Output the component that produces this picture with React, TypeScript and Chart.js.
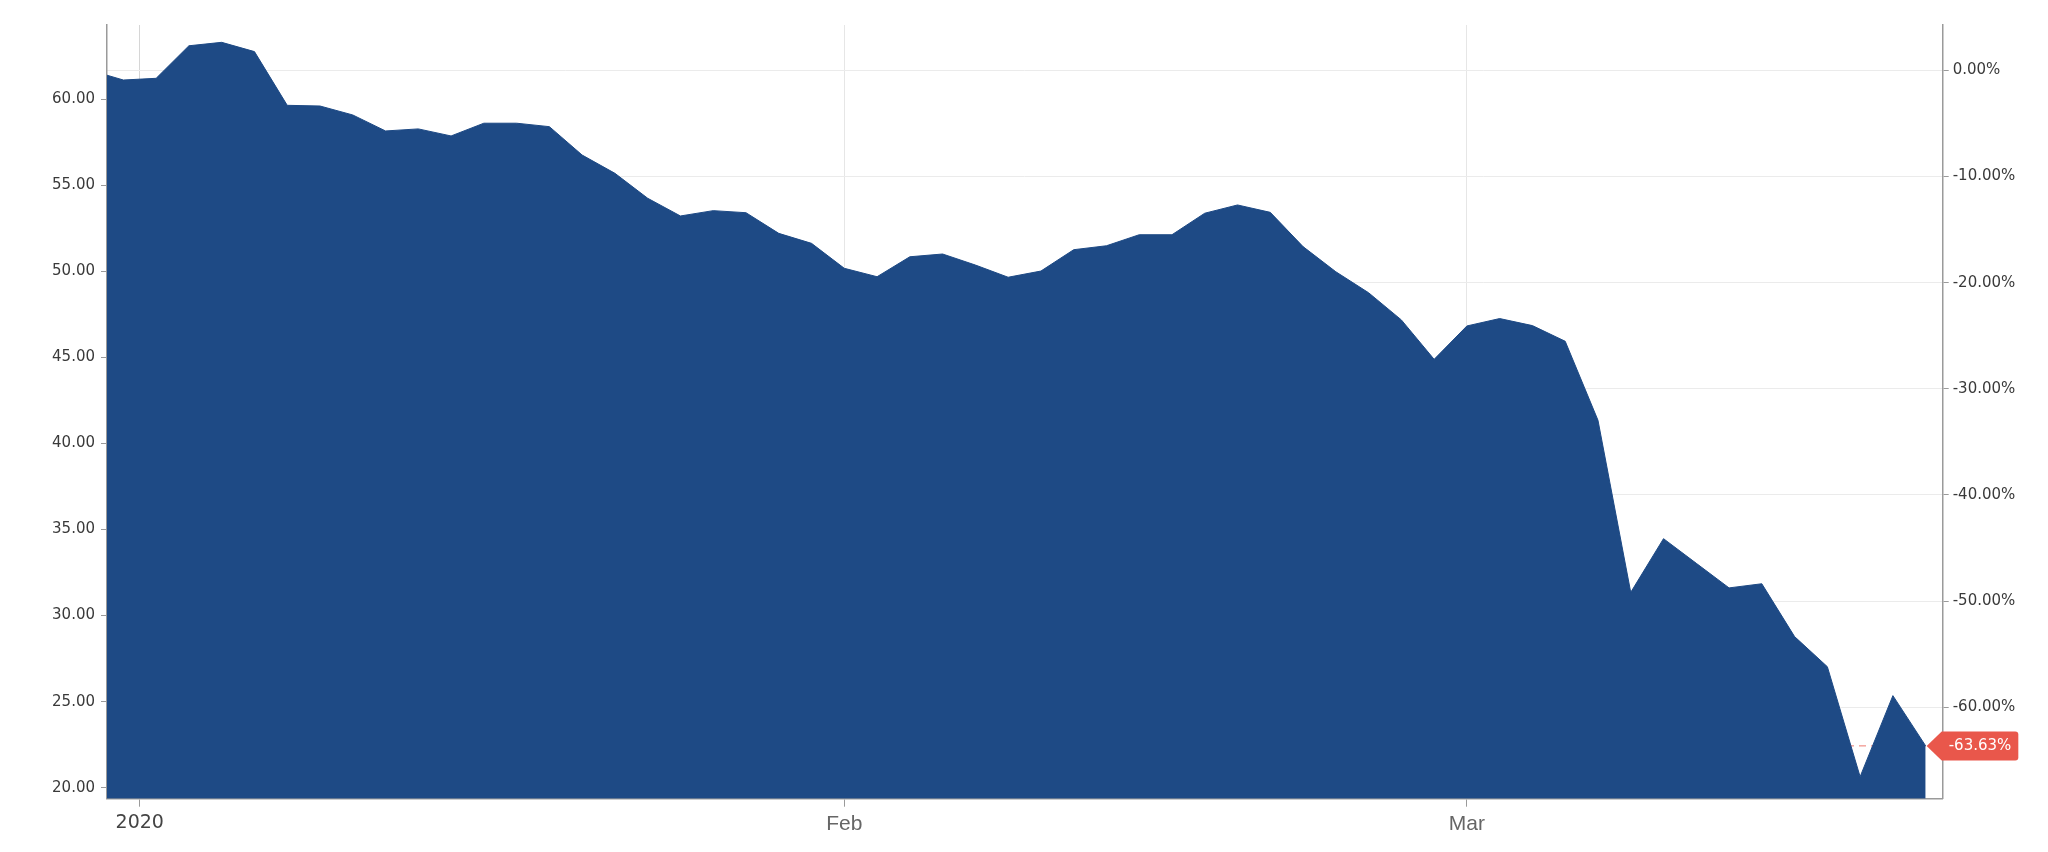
import React, { useEffect, useRef } from 'react';
import { Chart, registerables } from 'chart.js';

Chart.register(...registerables);

// Trading days shown on the chart (ordinal axis: one slot per trading day)
const tradingDays = [
  '2019-12-30', '2019-12-31',
  '2020-01-02', '2020-01-03', '2020-01-06', '2020-01-07', '2020-01-08', '2020-01-09', '2020-01-10',
  '2020-01-13', '2020-01-14', '2020-01-15', '2020-01-16', '2020-01-17',
  '2020-01-21', '2020-01-22', '2020-01-23', '2020-01-24',
  '2020-01-27', '2020-01-28', '2020-01-29', '2020-01-30', '2020-01-31',
  '2020-02-03', '2020-02-04', '2020-02-05', '2020-02-06', '2020-02-07',
  '2020-02-10', '2020-02-11', '2020-02-12', '2020-02-13', '2020-02-14',
  '2020-02-18', '2020-02-19', '2020-02-20', '2020-02-21',
  '2020-02-24', '2020-02-25', '2020-02-26', '2020-02-27', '2020-02-28',
  '2020-03-02', '2020-03-03', '2020-03-04', '2020-03-05', '2020-03-06',
  '2020-03-09', '2020-03-10', '2020-03-11', '2020-03-12', '2020-03-13',
  '2020-03-16', '2020-03-17', '2020-03-18', '2020-03-19', '2020-03-20',
];

const prices = [
  61.68, 61.12,
  61.22, 63.11, 63.31, 62.77, 59.65, 59.61, 59.09,
  58.16, 58.28, 57.87, 58.61, 58.61,
  58.41, 56.76, 55.70, 54.25,
  53.22, 53.53, 53.41, 52.21, 51.63,
  50.18, 49.69, 50.85, 51.01, 50.37,
  49.66, 50.02, 51.26, 51.49, 52.13,
  52.13, 53.38, 53.86, 53.43,
  51.44, 49.98, 48.76, 47.18, 44.89,
  46.83, 47.26, 46.85, 45.94, 41.35,
  31.35, 34.47, 33.04, 31.61, 31.85,
  28.78, 27.03, 20.64, 25.35, 22.43,
];

const leftTicks = [20, 25, 30, 35, 40, 45, 50, 55, 60];
const rightTicks = [0, -10, -20, -30, -40, -50, -60];
const xTickPositions = [1.5, 23, 42];
const xTickLabels = ['2020', 'Feb', 'Mar'];

const Y_MIN = 19.361;
const Y_MAX = 64.317;
const X_MIN = 0.5;
const X_MAX = 56.52;

const base = prices[0];
const pct = (v: number) => (v / base - 1) * 100;

const FILL = '#1e4a85';
const RED = '#e9574b';
const AXIS = '#9a9a9a';

const lastPricePlugin = {
  id: 'lastPrice',
  beforeDatasetsDraw(chart: any) {
    const { ctx, chartArea, scales } = chart;
    const last = prices[prices.length - 1];
    const y = scales.y.getPixelForValue(last);
    ctx.save();
    ctx.beginPath();
    ctx.rect(chartArea.left, chartArea.top, chartArea.right - chartArea.left, chartArea.bottom - chartArea.top);
    ctx.clip();
    ctx.setLineDash([7, 5]);
    ctx.strokeStyle = 'rgba(233,87,75,0.8)';
    ctx.lineWidth = 1;
    ctx.beginPath();
    ctx.moveTo(chartArea.left, y);
    ctx.lineTo(chartArea.right, y);
    ctx.stroke();
    ctx.restore();
  },
  afterDraw(chart: any) {
    const { ctx, chartArea, scales } = chart;
    const lastIdx = prices.length - 1;
    const last = prices[lastIdx];
    const y = scales.y.getPixelForValue(last);
    const tipX = scales.x.getPixelForValue(lastIdx) + 1;
    const text = `${pct(last).toFixed(2)}%`;
    ctx.save();
    ctx.font = '15px "DejaVu Sans"';
    const tw = ctx.measureText(text).width;
    const boxL = chartArea.right - 1;
    const boxR = boxL + tw + 14;
    const h = 29;
    const top = y - h / 2;
    const bottom = y + h / 2;
    const r = 3;
    ctx.fillStyle = RED;
    ctx.beginPath();
    ctx.moveTo(tipX, y);
    ctx.lineTo(boxL, top);
    ctx.lineTo(boxR - r, top);
    ctx.arcTo(boxR, top, boxR, top + r, r);
    ctx.lineTo(boxR, bottom - r);
    ctx.arcTo(boxR, bottom, boxR - r, bottom, r);
    ctx.lineTo(boxL, bottom);
    ctx.closePath();
    ctx.fill();
    ctx.fillStyle = '#ffffff';
    ctx.textAlign = 'center';
    ctx.textBaseline = 'middle';
    ctx.fillText(text, (boxL + boxR) / 2, y + 0.5);
    ctx.restore();
  },
};

export default function App() {
  const canvasRef = useRef<HTMLCanvasElement | null>(null);

  useEffect(() => {
    if (!canvasRef.current) return;
    const chart = new Chart(canvasRef.current, {
      type: 'line',
      data: {
        datasets: [
          {
            label: 'Price',
            data: prices.map((p, i) => ({ x: i, y: p })),
            xAxisID: 'x',
            yAxisID: 'y',
            fill: 'start',
            backgroundColor: FILL,
            borderColor: FILL,
            borderWidth: 1,
            pointRadius: 0,
            pointHoverRadius: 0,
            tension: 0,
          },
        ],
      },
      options: {
        animation: false,
        responsive: false,
        devicePixelRatio: 1,
        events: [],
        layout: { padding: { top: 25, left: 0, right: 0, bottom: 0 } },
        plugins: {
          legend: { display: false },
          tooltip: { enabled: false },
        },
        scales: {
          x: {
            type: 'linear',
            position: 'bottom',
            min: X_MIN,
            max: X_MAX,
            afterBuildTicks: (s: any) => {
              s.ticks = xTickPositions.map((v) => ({ value: v }));
            },
            afterFit: (s: any) => {
              s.height = 53.3;
            },
            ticks: {
              autoSkip: false,
              maxRotation: 0,
              padding: 5,
              callback: (v: any) => xTickLabels[xTickPositions.indexOf(Number(v))] ?? '',
              font: (c: any) =>
                c.index === 0
                  ? { family: '"DejaVu Sans"', size: 19 }
                  : { family: '"Liberation Sans", Arial', size: 21 },
              color: (c: any) => (c.index === 0 ? '#444444' : '#666666'),
            },
            grid: {
              color: (c: any) => (c.index === 0 ? '#d6d6d6' : '#e6e6e6'),
              lineWidth: 1,
              tickColor: AXIS,
              tickLength: 8,
            },
            border: { color: AXIS, width: 1.5 },
          },
          y: {
            type: 'linear',
            position: 'left',
            min: Y_MIN,
            max: Y_MAX,
            afterBuildTicks: (s: any) => {
              s.ticks = leftTicks.map((v) => ({ value: v }));
            },
            afterFit: (s: any) => {
              s.width = 107;
            },
            ticks: {
              autoSkip: false,
              padding: 6,
              callback: (v: any) => Number(v).toFixed(2),
              font: { family: '"DejaVu Sans"', size: 15 },
              color: '#3a3a3a',
            },
            grid: { drawOnChartArea: false, tickColor: AXIS, tickLength: 6 },
            border: { color: AXIS, width: 1.5 },
          },
          y2: {
            type: 'linear',
            position: 'right',
            min: pct(Y_MIN),
            max: pct(Y_MAX),
            afterBuildTicks: (s: any) => {
              s.ticks = rightTicks.map((v) => ({ value: v }));
            },
            afterFit: (s: any) => {
              s.width = 2048 - 1942.7;
            },
            ticks: {
              autoSkip: false,
              padding: 4,
              callback: (v: any) => `${Number(v).toFixed(2)}%`,
              font: { family: '"DejaVu Sans"', size: 15 },
              color: '#3a3a3a',
            },
            grid: { color: '#ebebeb', lineWidth: 1, tickColor: AXIS, tickLength: 6 },
            border: { color: AXIS, width: 1.5 },
          },
        },
      },
      plugins: [lastPricePlugin],
    });
    return () => chart.destroy();
  }, []);

  return (
    <div style={{ position: 'fixed', left: 0, top: 0, width: 2048, height: 852, background: '#ffffff' }}>
      <canvas ref={canvasRef} width={2048} height={852} style={{ display: 'block', width: 2048, height: 852 }} />
    </div>
  );
}
